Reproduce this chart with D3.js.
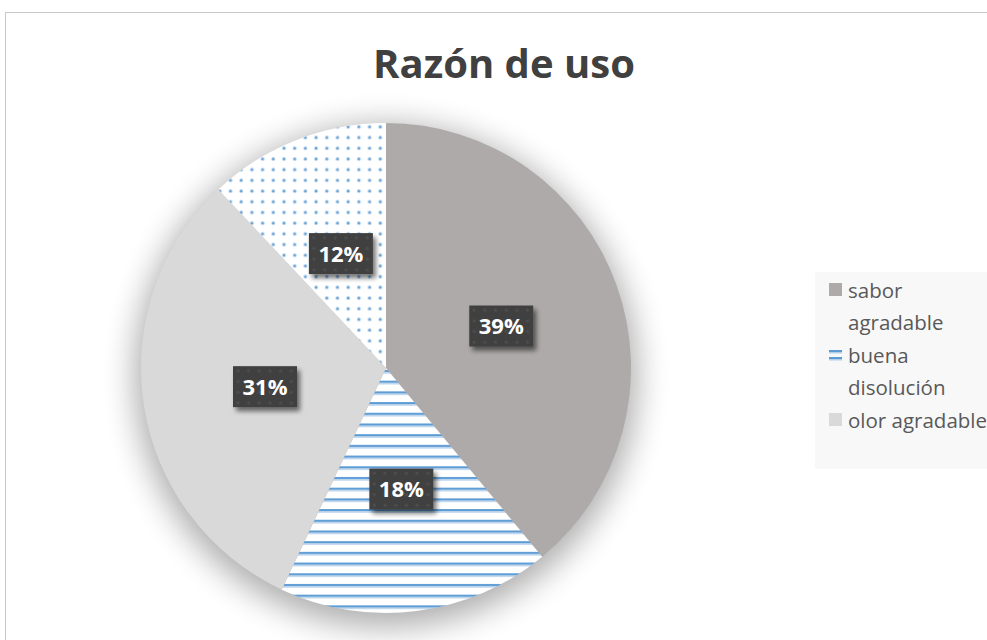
<!DOCTYPE html>
<html>
<head>
<meta charset="utf-8">
<script src="https://cdn.jsdelivr.net/npm/d3@7"></script>
<style>
  body { margin: 0; background: #fff; }
  svg { display: block; font-family: "Open Sans", "DejaVu Sans", sans-serif; }
</style>
</head>
<body>
<svg id="chart"></svg>
<script>
const categories = ["sabor agradable", "buena disolución", "olor agradable", "otro"];
const values = [39, 18, 31, 12];
const fills = ["#aeaaaa", "url(#stripes)", "#d9d9d9", "url(#dots)"];
// legend only shows the first three entries in the reference
const legendCount = 3;

const width = 987, height = 640;
const cx = 386, cy = 368, radius = 245;

const svg = d3.select("#chart").attr("width", width).attr("height", height);
const defs = svg.append("defs");

// patterns
const dots = defs.append("pattern")
  .attr("id", "dots").attr("patternUnits", "userSpaceOnUse")
  .attr("width", 10.7).attr("height", 10.7);
dots.append("rect").attr("width", 10.7).attr("height", 10.7).attr("fill", "#fff");
dots.append("circle").attr("cx", 5).attr("cy", 5).attr("r", 2).attr("fill", "#bdd7ee");
dots.append("circle").attr("cx", 5).attr("cy", 5).attr("r", 1.1).attr("fill", "#5b9bd5");

const stripes = defs.append("pattern")
  .attr("id", "stripes").attr("patternUnits", "userSpaceOnUse")
  .attr("width", 20).attr("height", 10.7);
stripes.append("rect").attr("width", 20).attr("height", 10.7).attr("fill", "#fff");
stripes.append("rect").attr("y", 2).attr("width", 20).attr("height", 2).attr("fill", "#5b9bd5");
stripes.append("rect").attr("y", 4).attr("width", 20).attr("height", 1.6).attr("fill", "#b4cfea");

const labelDots = defs.append("pattern")
  .attr("id", "labelDots").attr("patternUnits", "userSpaceOnUse")
  .attr("width", 10.7).attr("height", 10.7);
labelDots.append("rect").attr("width", 10.7).attr("height", 10.7).attr("fill", "#404040");
labelDots.append("circle").attr("cx", 5).attr("cy", 5).attr("r", 1.6).attr("fill", "#4d4d4d");

// shadows
const pieShadow = defs.append("filter").attr("id", "pieShadow")
  .attr("x", "-30%").attr("y", "-30%").attr("width", "160%").attr("height", "160%");
pieShadow.append("feGaussianBlur").attr("stdDeviation", 16);

const boxShadow = defs.append("filter").attr("id", "boxShadow")
  .attr("x", "-30%").attr("y", "-30%").attr("width", "160%").attr("height", "160%");
boxShadow.append("feGaussianBlur").attr("in", "SourceAlpha").attr("stdDeviation", 2.5);
boxShadow.append("feOffset").attr("dx", 3).attr("dy", 4).attr("result", "blur");
boxShadow.append("feComponentTransfer").append("feFuncA").attr("type", "linear").attr("slope", 0.55);
const merge = boxShadow.append("feMerge");
merge.append("feMergeNode");
merge.append("feMergeNode").attr("in", "SourceGraphic");

// chart frame
svg.append("rect")
  .attr("x", 5.5).attr("y", 12.5)
  .attr("width", width).attr("height", height)
  .attr("fill", "#fff").attr("stroke", "#c9c9c9").attr("stroke-width", 1);

// title
svg.append("text")
  .attr("x", 504).attr("y", 78)
  .attr("text-anchor", "middle")
  .attr("font-size", 40).attr("font-weight", "bold")
  .attr("fill", "#404040")
  .text("Razón de uso");

const pie = d3.pie().sort(null).value(d => d.value);
const arcs = pie(categories.map((c, i) => ({ name: c, value: values[i], fill: fills[i] })));
const arc = d3.arc().innerRadius(0).outerRadius(radius);
const labelArc = d3.arc().innerRadius(0).outerRadius(radius);

const g = svg.append("g").attr("transform", `translate(${cx},${cy})`);

g.append("circle")
  .attr("cx", 0).attr("cy", 8).attr("r", radius + 6)
  .attr("fill", "#000").attr("opacity", 0.32)
  .attr("filter", "url(#pieShadow)");

g.selectAll(".slice")
  .data(arcs)
  .join("path")
  .attr("class", "slice")
  .attr("d", arc)
  .attr("fill", d => d.data.fill);

// data labels
const total = d3.sum(values);
const labels = g.selectAll(".label")
  .data(arcs)
  .join("g")
  .attr("class", "label")
  .attr("transform", d => `translate(${labelArc.centroid(d)})`);

labels.append("rect")
  .attr("x", -32).attr("y", -21)
  .attr("width", 64).attr("height", 41)
  .attr("fill", "url(#labelDots)")
  .attr("filter", "url(#boxShadow)");

labels.append("text")
  .attr("text-anchor", "middle")
  .attr("dy", "0.36em")
  .attr("font-size", 22).attr("font-weight", "bold")
  .attr("fill", "#fff")
  .text(d => Math.round(d.data.value / total * 100) + "%");

// legend
const legend = svg.append("g").attr("transform", "translate(815,272)");
legend.append("rect")
  .attr("width", 200).attr("height", 197)
  .attr("fill", "#f8f8f8");

const legendRows = [
  ["sabor", "agradable"],
  ["buena", "disolución"],
  ["olor agradable"]
];
const itemY = [25, 90, 155];

const items = legend.selectAll(".legend-item")
  .data(arcs.slice(0, legendCount))
  .join("g")
  .attr("class", "legend-item")
  .attr("transform", (d, i) => `translate(0,${itemY[i]})`);

items.each(function (d, i) {
  const item = d3.select(this);
  if (i === 1) {
    item.append("rect").attr("x", 14).attr("y", -12).attr("width", 13).attr("height", 2).attr("fill", "#5b9bd5");
    item.append("rect").attr("x", 14).attr("y", -10).attr("width", 13).attr("height", 1.5).attr("fill", "#b4cfea");
    item.append("rect").attr("x", 14).attr("y", -5).attr("width", 13).attr("height", 2).attr("fill", "#5b9bd5");
    item.append("rect").attr("x", 14).attr("y", -3).attr("width", 13).attr("height", 1.5).attr("fill", "#b4cfea");
  } else {
    item.append("rect")
      .attr("x", 14).attr("y", -14)
      .attr("width", 13).attr("height", 13)
      .attr("fill", d.data.fill);
  }
  const t = item.append("text")
    .attr("x", 33).attr("y", 1)
    .attr("font-size", 20.5)
    .attr("fill", "#595959");
  legendRows[i].forEach((line, j) => {
    t.append("tspan").attr("x", 33).attr("dy", j === 0 ? 0 : 32).text(line);
  });
});
</script>
</body>
</html>
